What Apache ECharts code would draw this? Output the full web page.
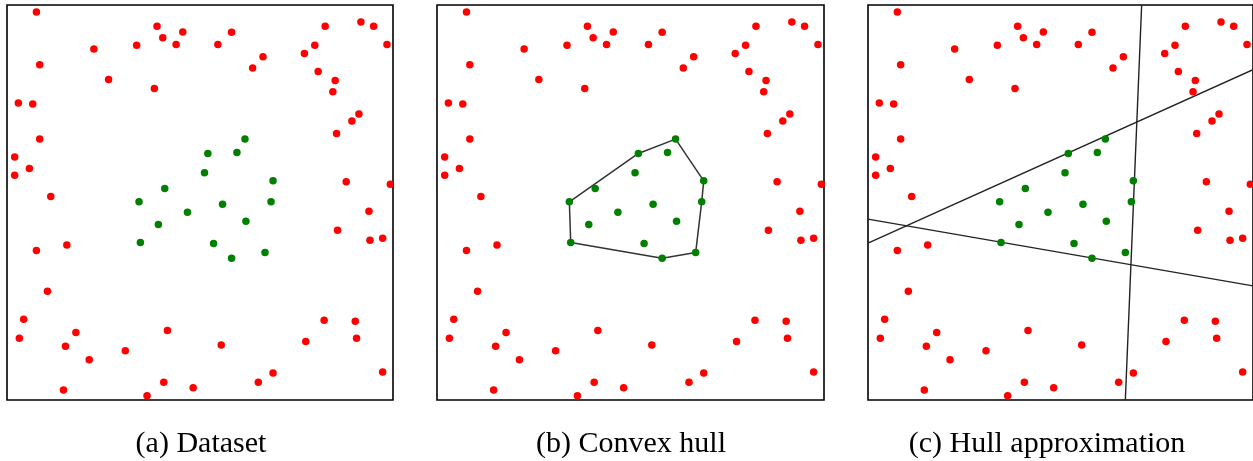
<!DOCTYPE html>
<html>
<head>
<meta charset="utf-8">
<script src="https://cdn.jsdelivr.net/npm/echarts@6/dist/echarts.min.js"></script>
<style>
html,body{margin:0;padding:0;background:#fff;}
#chart{width:1253px;height:461px;}
</style>
</head>
<body>
<div id="chart"></div>
<script>
// Outside (red) points: [x, y] in a 0-100 data domain
const redPoints = [
  [7.62,98.23],[38.87,94.59],[40.35,91.72],[45.54,93.16],[43.81,90.03],[22.51,88.85],
  [33.59,89.78],[54.63,90.03],[58.18,93.07],[8.48,84.88],[26.32,81.17],[38.18,78.89],
  [63.64,84.04],[66.32,86.91],[2.94,75.17],[6.67,74.92],[8.48,66.05],[1.99,61.49],
  [5.80,58.61],[1.99,56.93],[11.34,51.52],[7.62,37.84],[15.50,39.27],[10.48,27.53],
  [4.33,20.44],[3.20,15.63],[17.84,17.06],[15.15,13.60],[21.30,10.22],[30.65,12.50],
  [41.56,17.57],[55.50,13.94],[14.63,2.53],[36.28,1.10],[40.61,4.48],[48.23,3.13],
  [65.11,4.48],[68.92,6.84],[82.42,94.59],[91.69,95.69],[94.98,94.59],[98.44,90.03],
  [79.74,89.78],[77.06,87.75],[80.61,83.19],[85.02,80.91],[84.42,78.04],[91.17,72.38],
  [89.35,70.61],[85.37,67.48],[87.88,55.24],[99.31,54.65],[93.77,47.80],[85.63,42.99],
  [94.03,40.46],[97.32,40.96],[82.16,20.19],[90.22,19.93],[77.40,14.78],[90.56,15.63],
  [97.32,7.09]
];
// Inside (green) points
const greenPoints = [
  [61.65,66.05],[52.03,62.42],[59.57,62.67],[51.17,57.52],[68.92,55.49],[40.87,53.55],
  [34.20,50.17],[68.40,50.17],[55.84,49.58],[46.75,47.55],[61.90,45.27],[39.22,44.43],
  [34.55,39.86],[53.51,39.61],[66.84,37.33],[58.18,35.90]
];
// Convex hull vertex order (indices into greenPoints), closed
const hullOrder = [6, 1, 0, 4, 7, 14, 15, 12, 6];
// Hull approximation lines: two endpoints each
const approxLines = [
  [[71.08,100],[66.84,0]],
  [[0,39.70],[100,83.61]],
  [[0,45.78],[100,28.89]]
];
const captions = ['(a) Dataset', '(b) Convex hull', '(c) Hull approximation'];

const gridDefs = [
  {left: 7, top: 5, width: 386, height: 395},
  {left: 437, top: 5, width: 387, height: 395},
  {left: 868, top: 5, width: 386, height: 395}
];
const captionX = [201, 631, 1047];

const grids = gridDefs.map(g => Object.assign({show: true, borderColor: '#000', borderWidth: 1.6, backgroundColor: '#fff', containLabel: false}, g));
const xAxes = gridDefs.map((g, i) => ({type: 'value', gridIndex: i, min: 0, max: 100, show: false}));
const yAxes = gridDefs.map((g, i) => ({type: 'value', gridIndex: i, min: 0, max: 100, show: false}));

const series = [];
for (let i = 0; i < 3; i++) {
  series.push({type: 'scatter', xAxisIndex: i, yAxisIndex: i, data: redPoints, symbolSize: 7.5,
    itemStyle: {color: '#ff0000', opacity: 1}, z: 3, silent: true});
  series.push({type: 'scatter', xAxisIndex: i, yAxisIndex: i, data: greenPoints, symbolSize: 7.5,
    itemStyle: {color: '#008000', opacity: 1}, z: 4, silent: true});
}
series.push({type: 'line', xAxisIndex: 1, yAxisIndex: 1, data: hullOrder.map(k => greenPoints[k]),
  showSymbol: false, lineStyle: {color: '#333', width: 1.5}, z: 2, silent: true});
approxLines.forEach(l => {
  series.push({type: 'line', xAxisIndex: 2, yAxisIndex: 2, data: l, showSymbol: false,
    lineStyle: {color: '#222', width: 1.4}, z: 2, silent: true, clip: true});
});

const graphic = captions.map((t, i) => ({
  type: 'text', x: captionX[i], y: 444,
  style: {text: t, fill: '#000', font: '30px "Liberation Serif", "DejaVu Serif", serif',
    textAlign: 'center', textVerticalAlign: 'middle'}
}));

const chart = echarts.init(document.getElementById('chart'), null, {renderer: 'canvas'});
chart.setOption({
  animation: false,
  backgroundColor: '#fff',
  grid: grids,
  xAxis: xAxes,
  yAxis: yAxes,
  series: series,
  graphic: graphic
});
</script>
</body>
</html>
